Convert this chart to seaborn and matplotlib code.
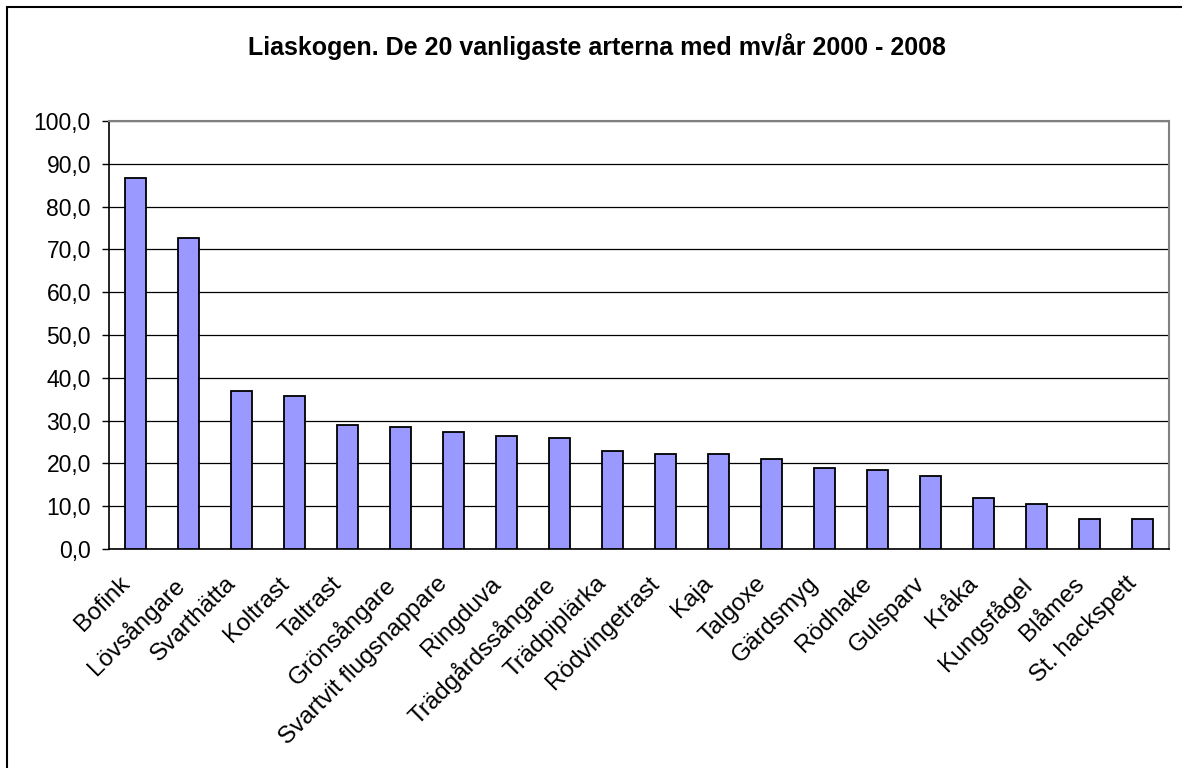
import numpy as np
import pandas as pd
import matplotlib
matplotlib.use("Agg")
import matplotlib.pyplot as plt
import matplotlib.transforms as mtrans
from matplotlib.patches import Rectangle
from matplotlib.ticker import FixedLocator, FuncFormatter
import seaborn as sns

species = ["Bofink", "Lövsångare", "Svarthätta", "Koltrast", "Taltrast",
           "Grönsångare", "Svartvit flugsnappare", "Ringduva", "Trädgårdssångare",
           "Trädpiplärka", "Rödvingetrast", "Kaja", "Talgoxe", "Gärdsmyg",
           "Rödhake", "Gulsparv", "Kråka", "Kungsfågel", "Blåmes", "St. hackspett"]
mean_per_year = [86.8, 72.7, 37.0, 35.7, 29.0,
                 28.6, 27.4, 26.4, 26.0,
                 23.0, 22.1, 22.1, 21.1, 18.9,
                 18.5, 17.1, 11.9, 10.6, 7.1, 7.1]
y_ticks = [0, 10, 20, 30, 40, 50, 60, 70, 80, 90, 100]

df = pd.DataFrame({"art": species, "mv": mean_per_year})

sns.set_style("white")
plt.rcParams["font.family"] = ["Liberation Sans", "DejaVu Sans"]
plt.rcParams["text.color"] = "black"
plt.rcParams["xtick.labelcolor"] = "black"
plt.rcParams["ytick.labelcolor"] = "black"

fig = plt.figure(figsize=(11.82, 7.68), dpi=100)
ax = fig.add_axes([0.0922, 0.2852, 0.8968, 0.5572])

sns.barplot(data=df, x="art", y="mv", color="#9999FF", saturation=1,
            edgecolor="black", linewidth=1.3, width=0.4, ax=ax, zorder=3)

ax.set_xlim(-0.5, len(species) - 0.5)
ax.set_ylim(0, 100)
ax.set_yticks(y_ticks)
ax.yaxis.set_major_formatter(FuncFormatter(lambda v, p: f"{v:.1f}".replace(".", ",")))
ax.grid(axis="y", color="black", linewidth=0.9, zorder=0)
ax.set_axisbelow(True)

# category labels at centres, tick marks between categories
ax.xaxis.set_minor_locator(FixedLocator(np.arange(-0.5, len(species), 1.0)))
ax.tick_params(axis="x", which="major", length=0, pad=17, labelsize=17.5)
ax.tick_params(axis="x", which="minor", length=5.5, width=1, color="black", direction="out")
ax.tick_params(axis="y", length=5, width=1, color="black", direction="out",
               labelsize=16.5, pad=8, left=True)
shift = mtrans.ScaledTranslation(-17 / 100, 0, fig.dpi_scale_trans)
for lab in ax.get_xticklabels():
    lab.set_rotation(45)
    lab.set_ha("right")
    lab.set_va("top")
    lab.set_rotation_mode("anchor")
    lab.set_transform(lab.get_transform() + shift)

ax.set_xlabel("")
ax.set_ylabel("")
for s in ["left", "bottom"]:
    ax.spines[s].set_color("black")
    ax.spines[s].set_linewidth(1.2)
for s in ["top", "right"]:
    ax.spines[s].set_color("#808080")
    ax.spines[s].set_linewidth(1.5)

fig.text(0.505, 0.94, "Liaskogen. De 20 vanligaste arterna med mv/år 2000 - 2008",
         ha="center", va="center", fontsize=18, fontweight="bold")

# outer chart frame
fig.patches.append(Rectangle((7 / 1182, -0.05), 1.2, 1 - 7 / 768 + 0.05,
                             transform=fig.transFigure, fill=False,
                             edgecolor="black", linewidth=1.5))

fig.savefig("out.png", dpi=100)
